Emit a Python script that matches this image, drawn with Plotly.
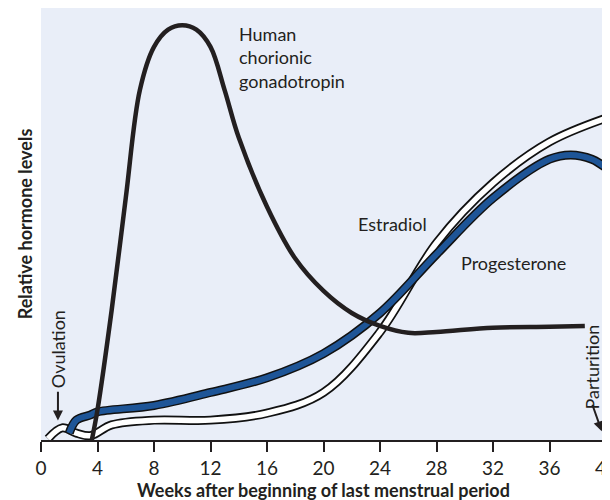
import plotly.graph_objects as go

hcg_w = [3.6, 4, 5, 6, 7, 8, 9, 10, 11, 12, 13, 14, 16, 18, 20, 22, 24, 26, 28, 32, 36, 38.5]
hcg_v = [0, 7, 30, 56, 81, 91, 95, 96, 95, 91, 81, 70, 54, 42, 34.5, 29.4, 26.4, 24.8, 25, 26, 26.2, 26.4]
prog_w = [2, 2.5, 3.5, 4, 8, 12, 16, 20, 24, 28, 32, 36, 37.5, 39, 40]
prog_v = [1.6, 4.6, 5.8, 6.5, 8, 11, 14.4, 20, 29.4, 43, 56, 65, 66, 65, 63]
estr_w = [0.5, 1.5, 2.5, 3.5, 5, 8, 12, 16, 20, 24, 28, 32, 36, 40]
estr_v = [0.3, 2.8, 1.6, 1.0, 3.5, 4.6, 4.6, 6.2, 11, 25, 45.6, 59.5, 69, 74.5]
xticks = [0, 4, 8, 12, 16, 20, 24, 28, 32, 36, 40]

fig = go.Figure()
def add(x, y, color, width):
    fig.add_trace(go.Scatter(x=x, y=y, mode="lines", line=dict(color=color, width=width, shape="spline", smoothing=1.0), showlegend=False, hoverinfo="skip"))

add(estr_w, estr_v, "#111", 9)
add(estr_w, estr_v, "white", 5.5)
add(prog_w, prog_v, "#111", 9)
add(prog_w, prog_v, "#1e5597", 6)
add(hcg_w, hcg_v, "#231f20", 4.5)

F = "Lato, Open Sans, sans-serif"
ann = [
    dict(x=13.9, y=97, text="Human<br>chorionic<br>gonadotropin", align="left", xanchor="left", yanchor="top", font=dict(size=18)),
    dict(x=22.3, y=50, text="Estradiol", xanchor="left", yanchor="middle", font=dict(size=18)),
    dict(x=29.6, y=41, text="Progesterone", xanchor="left", yanchor="middle", font=dict(size=18)),
    dict(x=1.2, y=21, text="Ovulation", textangle=-90, xanchor="center", yanchor="middle", font=dict(size=18)),
    dict(x=39.0, y=17, text="Parturition", textangle=-90, xanchor="center", yanchor="middle", font=dict(size=18)),
]
for a in ann:
    a.update(showarrow=False, xref="x", yref="y")
    a["font"].update(family=F, color="#231f20")
    fig.add_annotation(**a)
fig.add_annotation(x=1.2, y=4.5, ax=1.2, ay=11.5, xref="x", yref="y", axref="x", ayref="y", text="", showarrow=True, arrowhead=2, arrowsize=1, arrowwidth=2, arrowcolor="#231f20")
fig.add_annotation(x=39.7, y=2, ax=39, ay=8.5, xref="x", yref="y", axref="x", ayref="y", text="", showarrow=True, arrowhead=2, arrowsize=1, arrowwidth=2, arrowcolor="#231f20")

fig.update_layout(
    width=610, height=500, margin=dict(l=33, r=12, t=0, b=68),
    plot_bgcolor="#e9eef8", paper_bgcolor="white",
    font=dict(family=F, color="#231f20"),
    xaxis=dict(range=[0, 40], tickvals=xticks, showgrid=False, zeroline=False,
               ticks="outside", ticklen=10, tickwidth=1.5, tickcolor="#231f20",
               showline=True, linecolor="#231f20", linewidth=1.5, tickfont=dict(size=19),
               title=dict(text="<b>Weeks after beginning of last menstrual period</b>", font=dict(size=18), standoff=4)),
    yaxis=dict(range=[0, 100], showticklabels=False, showgrid=False, zeroline=False,
               showline=False, title=dict(text="<b>Relative hormone levels</b>", font=dict(size=18), standoff=2)),
)
fig.write_html("out.html")
